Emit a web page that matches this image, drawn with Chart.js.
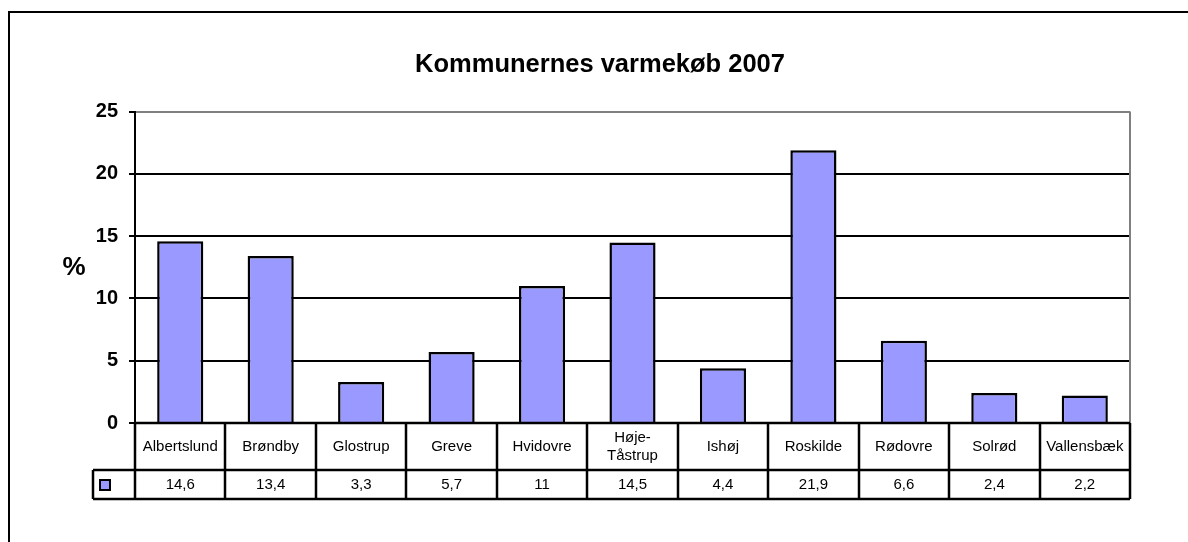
<!DOCTYPE html>
<html>
<head>
<meta charset="utf-8">
<title>Kommunernes varmekøb 2007</title>
<script src="https://cdn.jsdelivr.net/npm/chart.js@4.4.1/dist/chart.umd.min.js"></script>
<style>
  html, body { margin: 0; padding: 0; background: #fff; }
  #wrap { width: 1188px; height: 542px; }
</style>
</head>
<body>
<div id="wrap"><canvas id="varmekob" width="1188" height="542"></canvas></div>
<script>
const kommuner = ['Albertslund', 'Brøndby', 'Glostrup', 'Greve', 'Hvidovre', ['Høje-', 'Tåstrup'], 'Ishøj', 'Roskilde', 'Rødovre', 'Solrød', 'Vallensbæk'];
const andel = [14.6, 13.4, 3.3, 5.7, 11, 14.5, 4.4, 21.9, 6.6, 2.4, 2.2];
const yTicks = [0, 5, 10, 15, 20, 25];

const FONT = 'Arial, "Liberation Sans", sans-serif';
const BAR_COLOR = '#9999FF';

// baggrund + ramme rundt om diagrammet
const frame = {
  id: 'frame',
  beforeDraw(chart) {
    const ctx = chart.ctx;
    ctx.save();
    ctx.fillStyle = '#fff';
    ctx.fillRect(0, 0, chart.width, chart.height);
    ctx.strokeStyle = '#000';
    ctx.lineWidth = 2;
    ctx.beginPath();
    ctx.moveTo(9, chart.height);
    ctx.lineTo(9, 12);
    ctx.lineTo(chart.width, 12);
    ctx.stroke();
    ctx.restore();
  },
  afterDatasetsDraw(chart) {
    const { ctx, chartArea: a } = chart;
    ctx.save();
    ctx.strokeStyle = '#808080';
    ctx.lineWidth = 2;
    ctx.beginPath();
    ctx.moveTo(a.right, a.top);
    ctx.lineTo(a.right, a.bottom);
    ctx.stroke();
    // "%" aksetitel
    ctx.fillStyle = '#000';
    ctx.font = 'bold 26px ' + FONT;
    ctx.textAlign = 'center';
    ctx.textBaseline = 'middle';
    ctx.fillText('%', 74, 268);
    ctx.restore();
  }
};

// datatabellen under akserne
const dataTable = {
  id: 'dataTable',
  afterDraw(chart) {
    const { ctx, chartArea: a, scales: { x } } = chart;
    const n = kommuner.length;
    const colW = (a.right - a.left) / n;
    const r0 = a.bottom, r1 = a.bottom + 47, r2 = r1 + 29;
    const legL = a.left - 42;

    ctx.save();
    ctx.strokeStyle = '#000';
    ctx.lineWidth = 2.5;
    ctx.beginPath();
    // vandrette linjer
    ctx.moveTo(a.left, r0); ctx.lineTo(a.right, r0);
    ctx.moveTo(legL, r1); ctx.lineTo(a.right, r1);
    ctx.moveTo(legL, r2); ctx.lineTo(a.right, r2);
    // lodrette linjer
    ctx.moveTo(legL, r1); ctx.lineTo(legL, r2);
    for (let i = 0; i <= n; i++) {
      const xx = Math.round(a.left + i * colW);
      ctx.moveTo(xx, r0); ctx.lineTo(xx, r2);
    }
    ctx.stroke();

    // legend-firkant
    ctx.lineWidth = 2;
    ctx.fillStyle = BAR_COLOR;
    ctx.fillRect(100, r1 + 10, 10, 10);
    ctx.strokeRect(100, r1 + 10, 10, 10);

    ctx.fillStyle = '#000';
    ctx.font = '15px ' + FONT;
    ctx.textAlign = 'center';
    ctx.textBaseline = 'middle';
    kommuner.forEach((k, i) => {
      const cx = x.getPixelForValue(i);
      if (Array.isArray(k)) {
        ctx.fillText(k[0], cx, (r0 + r1) / 2 - 9);
        ctx.fillText(k[1], cx, (r0 + r1) / 2 + 9);
      } else {
        ctx.fillText(k, cx, (r0 + r1) / 2);
      }
      ctx.fillText(String(andel[i]).replace('.', ','), cx, (r1 + r2) / 2);
    });
    ctx.restore();
  }
};

const config = {
  type: 'bar',
  data: {
    labels: kommuner,
    datasets: [{
      data: andel,
      backgroundColor: BAR_COLOR,
      borderColor: '#000',
      borderWidth: 2.5,
      borderSkipped: 'bottom',
      barPercentage: 0.51,
      categoryPercentage: 1
    }]
  },
  options: {
    responsive: false,
    animation: false,
    layout: { padding: { left: 12, right: 0, top: 0, bottom: 119 } },
    plugins: {
      legend: { display: false },
      tooltip: { enabled: false },
      title: {
        display: true,
        text: 'Kommunernes varmekøb 2007',
        color: '#000',
        font: { family: FONT, size: 25.5, weight: 'bold' },
        padding: { top: 50, bottom: 31 }
      }
    },
    scales: {
      x: { display: false },
      y: {
        min: 0,
        max: 25,
        afterFit(scale) { scale.width = 123; },
        afterBuildTicks(scale) { scale.ticks = yTicks.map(v => ({ value: v })); },
        border: { color: '#000', width: 2 },
        grid: {
          color: ctx => ctx.tick && ctx.tick.value === 25 ? '#808080' : '#000',
          lineWidth: 2,
          tickLength: 6,
          tickColor: '#000'
        },
        ticks: {
          color: '#000',
          padding: 11,
          font: { family: FONT, size: 20, weight: 'bold' }
        }
      },
      // usynlig højre akse, holder plads til højre for plotområdet
      yRight: {
        position: 'right',
        afterFit(scale) { scale.width = 58; },
        grid: { display: false, drawTicks: false },
        border: { display: false },
        ticks: { display: false }
      }
    }
  },
  plugins: [frame, dataTable]
};

new Chart(document.getElementById('varmekob'), config);
</script>
</body>
</html>
